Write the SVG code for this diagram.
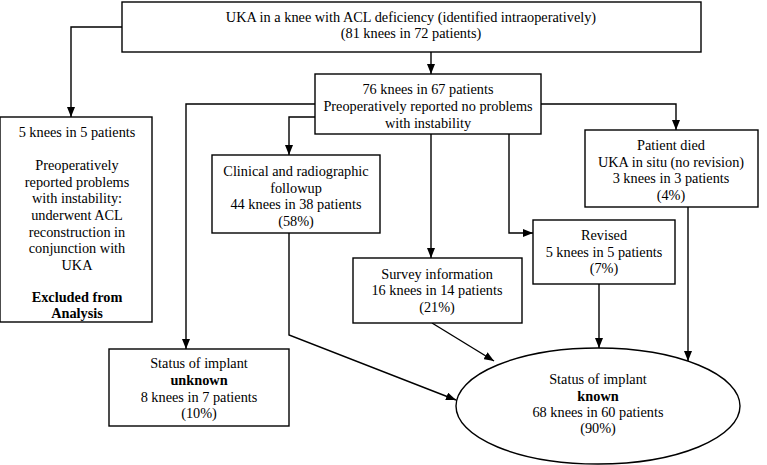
<svg xmlns="http://www.w3.org/2000/svg" width="767" height="465" viewBox="0 0 767 465">
<style>
.box{fill:#fff;stroke:#000;stroke-width:1.4}
.t{font-family:"Liberation Serif","Times New Roman",serif;font-size:14.3px;fill:#000;text-anchor:middle}
.b{font-weight:bold}
.c{fill:none;stroke:#000;stroke-width:1.4}
</style>
<defs>
<marker id="ah" markerUnits="userSpaceOnUse" markerWidth="10" markerHeight="8" refX="10" refY="4" orient="auto">
<path d="M0,0 L10,4 L0,8 z" fill="#000"/>
</marker>
</defs>
<rect width="767" height="465" fill="#fff"/>
<g id="connectors">
<path class="c" d="M431,52 V74" marker-end="url(#ah)"/>
<path class="c" d="M122,27 H71 V117" marker-end="url(#ah)"/>
<path class="c" d="M315,104 H186 V349" marker-end="url(#ah)"/>
<path class="c" d="M315,117 H289 V155" marker-end="url(#ah)"/>
<path class="c" d="M431,134 V258" marker-end="url(#ah)"/>
<path class="c" d="M509,134 V233 H533" marker-end="url(#ah)"/>
<path class="c" d="M541,104 H676 V130" marker-end="url(#ah)"/>
<path class="c" d="M289,233 V335 L456,400" marker-end="url(#ah)"/>
<path class="c" d="M432,323 L494,361" marker-end="url(#ah)"/>
<path class="c" d="M599,284 V348" marker-end="url(#ah)"/>
<path class="c" d="M688,207 V361" marker-end="url(#ah)"/>
</g>
<g id="top">
<rect class="box" x="122" y="2" width="579" height="50"/>
<text class="t" x="411" y="22">UKA in a knee with ACL deficiency (identified intraoperatively)</text>
<text class="t" x="411" y="38">(81 knees in 72 patients)</text>
</g>
<g id="no-instability">
<rect class="box" x="315" y="74" width="226" height="60"/>
<text class="t" x="428" y="94">76 knees in 67 patients</text>
<text class="t" x="428" y="111">Preoperatively reported no problems</text>
<text class="t" x="428" y="128">with instability</text>
</g>
<g id="excluded">
<rect class="box" x="0" y="117" width="152" height="205"/>
<text class="t" x="77" y="137">5 knees in 5 patients</text>
<text class="t" x="77" y="170">Preoperatively</text>
<text class="t" x="77" y="187">reported problems</text>
<text class="t" x="77" y="203">with instability:</text>
<text class="t" x="77" y="220">underwent ACL</text>
<text class="t" x="77" y="237">reconstruction in</text>
<text class="t" x="77" y="253">conjunction with</text>
<text class="t" x="77" y="270">UKA</text>
<text class="t b" x="77" y="302">Excluded from</text>
<text class="t b" x="77" y="318">Analysis</text>
</g>
<g id="clinical">
<rect class="box" x="212" y="155" width="168" height="78"/>
<text class="t" x="296" y="176">Clinical and radiographic</text>
<text class="t" x="296" y="193">followup</text>
<text class="t" x="296" y="209">44 knees in 38 patients</text>
<text class="t" x="296" y="226">(58%)</text>
</g>
<g id="survey">
<rect class="box" x="353" y="258" width="169" height="65"/>
<text class="t" x="437" y="279">Survey information</text>
<text class="t" x="437" y="295">16 knees in 14 patients</text>
<text class="t" x="437" y="312">(21%)</text>
</g>
<g id="revised">
<rect class="box" x="533" y="220" width="142" height="64"/>
<text class="t" x="604" y="240">Revised</text>
<text class="t" x="604" y="257">5 knees in 5 patients</text>
<text class="t" x="604" y="273">(7%)</text>
</g>
<g id="died">
<rect class="box" x="585" y="130" width="173" height="77"/>
<text class="t" x="671" y="150">Patient died</text>
<text class="t" x="671" y="167">UKA in situ (no revision)</text>
<text class="t" x="671" y="183">3 knees in 3 patients</text>
<text class="t" x="671" y="200">(4%)</text>
</g>
<g id="unknown">
<rect class="box" x="109" y="349" width="180" height="77"/>
<text class="t" x="199" y="368">Status of implant</text>
<text class="t b" x="199" y="385">unknown</text>
<text class="t" x="199" y="402">8 knees in 7 patients</text>
<text class="t" x="199" y="418">(10%)</text>
</g>
<g id="known">
<ellipse class="box" cx="598" cy="406" rx="142" ry="58"/>
<text class="t" x="598" y="384">Status of implant</text>
<text class="t b" x="598" y="401">known</text>
<text class="t" x="598" y="417">68 knees in 60 patients</text>
<text class="t" x="598" y="433">(90%)</text>
</g>
</svg>
